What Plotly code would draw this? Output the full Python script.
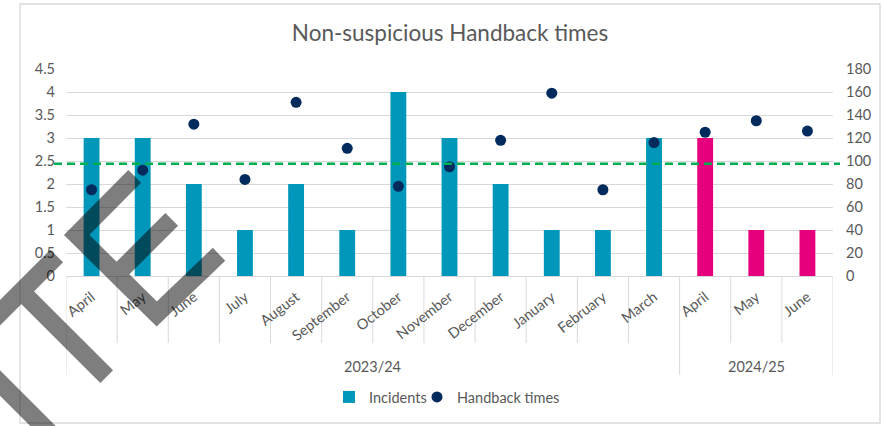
import plotly.graph_objects as go

# ---- data ----
months = ["April", "May", "June", "July", "August", "September", "October",
          "November", "December", "January", "February", "March",
          "April", "May", "June"]
years = ["2023/24"] * 12 + ["2024/25"] * 3
incidents = [3, 3, 2, 1, 2, 1, 4, 3, 2, 1, 1, 3, 3, 1, 1]
handback = [75, 92, 132, 84, 151, 111, 78, 95, 118, 159, 75, 116, 125, 135, 126]
target = 97.5
year_labels = ["2023/24", "2024/25"]

# ---- style ----
FONT = "Lato"
GREY = "#595959"
TEAL = "#0097BA"
MAGENTA = "#E6007E"
NAVY = "#002B5C"
GREEN = "#00B050"
GRID = "#D9D9D9"

W, H = 884, 426
L, R, T, B = 66, 51, 69, 150
PW, PH = W - L - R, H - T - B


def px(x, y):
    return (x - L) / PW, (H - B - y) / PH


idx = list(range(len(months)))
first = [i for i in idx if years[i] == year_labels[0]]
second = [i for i in idx if years[i] == year_labels[1]]

fig = go.Figure()
fig.add_trace(go.Bar(x=first, y=[incidents[i] for i in first], name="Incidents",
                     marker=dict(color=TEAL, line=dict(width=0)), width=0.31,
                     yaxis="y", legend="legend"))
fig.add_trace(go.Bar(x=second, y=[incidents[i] for i in second], name="Incidents",
                     marker=dict(color=MAGENTA, line=dict(width=0)), width=0.31,
                     yaxis="y", showlegend=False))
fig.add_trace(go.Scatter(x=idx, y=handback, name="Handback times", mode="markers",
                         marker=dict(color=NAVY, size=11), yaxis="y2",
                         legend="legend2"))

shapes = []
# target dashed line
x0, _ = px(54, 0)
x1, _ = px(840, 0)
shapes.append(dict(type="line", xref="paper", yref="y2", x0=x0, x1=x1,
                   y0=target, y1=target, layer="above",
                   line=dict(color=GREEN, width=2.5, dash="8px,5px")))

# category dividers
_, yshort = px(0, 343)
_, ylong = px(0, 375)
group_edges = {-0.5, first[-1] + 0.5, second[-1] + 0.5}
for k in range(len(months) + 1):
    xb = k - 0.5
    shapes.append(dict(type="line", xref="x", yref="paper", x0=xb, x1=xb,
                       y0=0, y1=ylong if xb in group_edges else yshort,
                       line=dict(color=GRID, width=1), layer="below"))

# chart border
bx0, by1 = px(20, 4)
bx1, by0 = px(880, 423)
shapes.append(dict(type="rect", xref="paper", yref="paper", x0=bx0, x1=bx1,
                   y0=by0, y1=by1, line=dict(color=GRID, width=1.3), layer="below"))

# watermark strokes (decoration)
segs = [
    [(134.7, 176.3), (76.7, 235), (156.7, 314), (219, 254.3)],
    [(116.6, 274.4), (171.7, 219.3)],
    [(56.7, 256), (-25, 337.7)],
    [(21.3, 291.3), (106.7, 376.7)],
    [(-25, 358), (75, 458)],
]
path = ""
for s in segs:
    for j, (a, b) in enumerate(s):
        u, v = px(a, b)
        path += ("M" if j == 0 else "L") + f"{u:.5f},{v:.5f} "
shapes.append(dict(type="path", xref="paper", yref="paper", path=path.strip(),
                   line=dict(color="black", width=18), opacity=0.5, layer="above"))

annotations = []
_, yy = px(0, 366)
for yl in year_labels:
    members = [i for i in idx if years[i] == yl]
    annotations.append(dict(x=sum(members) / len(members), y=yy, xref="x", yref="paper",
                            text=yl, showarrow=False, yanchor="middle",
                            font=dict(family=FONT, size=14.5, color=GREY)))

l1x, ly = px(329, 397)
l2x, _ = px(417, 397)
tx, _ = px(450, 0)

legend_common = dict(orientation="h", xanchor="left", y=ly, yanchor="middle",
                     font=dict(family=FONT, size=14.5, color=GREY),
                     bgcolor="rgba(0,0,0,0)")

fig.update_layout(
    width=W, height=H, autosize=False,
    margin=dict(l=L, r=R, t=T, b=B, pad=0),
    paper_bgcolor="white", plot_bgcolor="white",
    barmode="overlay",
    title=dict(text="Non-suspicious Handback times", x=tx, xref="paper",
               xanchor="center", y=1 - 33 / H, yref="container", yanchor="middle",
               font=dict(family=FONT, size=22.5, color=GREY)),
    font=dict(family=FONT, color=GREY),
    xaxis=dict(range=[-0.5, len(months) - 0.5], tickmode="array", tickvals=idx,
               ticktext=months, tickangle=-38, showgrid=False, zeroline=False,
               showline=True, linecolor=GRID, ticks="", ticklabelstandoff=6,
               tickfont=dict(family=FONT, size=14.5, color=GREY)),
    yaxis=dict(range=[0, 4.5], tickmode="array",
               tickvals=[0, 0.5, 1, 1.5, 2, 2.5, 3, 3.5, 4, 4.5],
               ticktext=["0", "0.5", "1", "1.5", "2", "2.5", "3", "3.5", "4", "4.5"],
               showgrid=True, gridcolor=GRID, gridwidth=1.3, zeroline=False,
               showline=False, ticks="", ticklabelstandoff=10,
               tickfont=dict(family=FONT, size=14.5, color=GREY)),
    yaxis2=dict(range=[0, 180], tickmode="array", tickvals=list(range(0, 181, 20)),
                overlaying="y", side="right", showgrid=False, zeroline=False,
                showline=False, ticks="", ticklabelstandoff=12,
                tickfont=dict(family=FONT, size=14.5, color=GREY)),
    legend=dict(x=l1x, **legend_common),
    legend2=dict(x=l2x, **legend_common),
    shapes=shapes, annotations=annotations,
)

fig.write_html("out.html")
